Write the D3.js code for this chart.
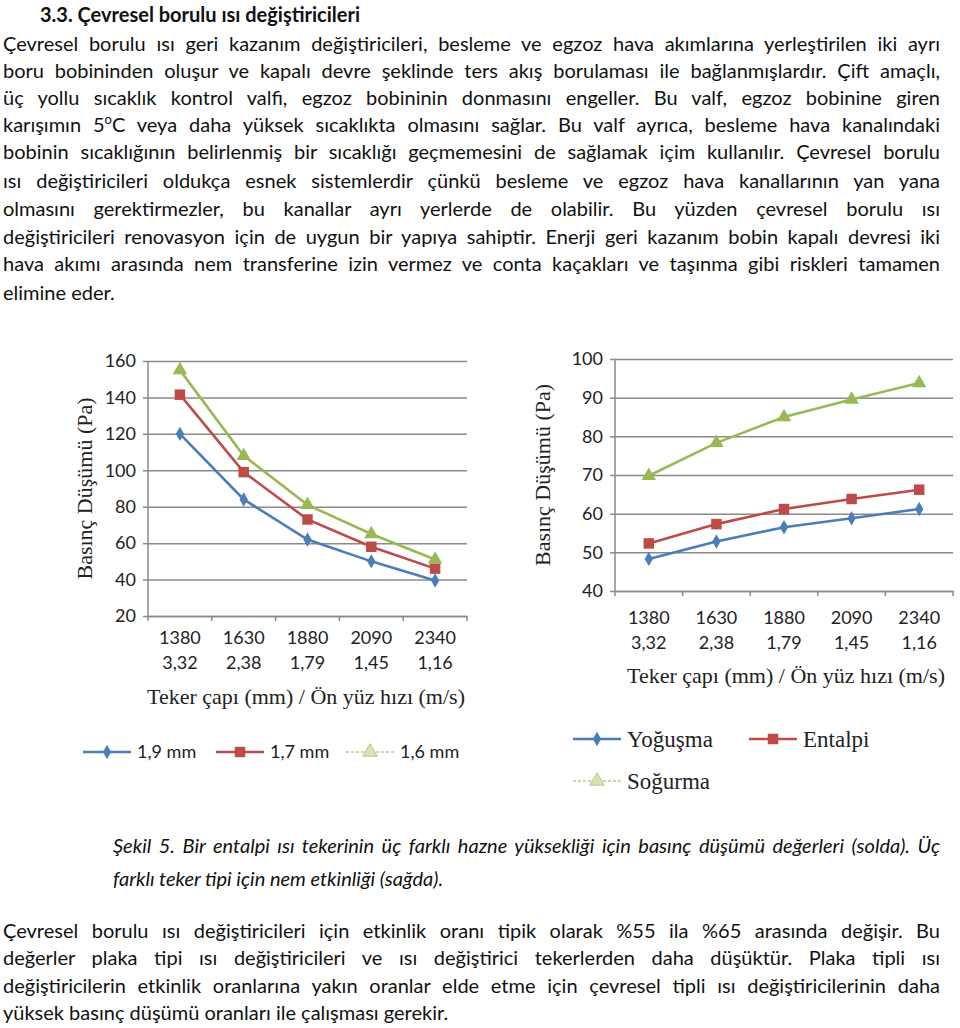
<!DOCTYPE html>
<html><head><meta charset="utf-8">
<script src="https://cdn.jsdelivr.net/npm/d3@7"></script>
<style>
html,body{margin:0;padding:0;background:#fff;}
#page{position:relative;width:960px;height:1028px;overflow:hidden;font-family:Lato,"Open Sans",sans-serif;color:#111;}
.ln{position:absolute;left:3px;width:937px;font-size:20px;line-height:24px;white-space:nowrap;text-align:justify;text-align-last:justify;}
.ln sup{font-size:0.65em;vertical-align:0;position:relative;top:-0.6em;line-height:0;}
.last{text-align-last:left;}
.it{font-style:italic;}
svg{position:absolute;left:0;top:0;}
</style></head>
<body><div id="page"></div>
<script>
// ---------- DATA ----------
const heading = "3.3. Çevresel borulu ısı değiştiricileri";
const bodyLines = [
 "Çevresel borulu ısı geri kazanım değiştiricileri, besleme ve egzoz hava akımlarına yerleştirilen iki ayrı",
 "boru bobininden oluşur ve kapalı devre şeklinde ters akış borulaması ile bağlanmışlardır. Çift amaçlı,",
 "üç yollu sıcaklık kontrol valfi, egzoz bobininin donmasını engeller. Bu valf, egzoz bobinine giren",
 "karışımın 5<sup>o</sup>C veya daha yüksek sıcaklıkta olmasını sağlar. Bu valf ayrıca, besleme hava kanalındaki",
 "bobinin sıcaklığının belirlenmiş bir sıcaklığı geçmemesini de sağlamak içim kullanılır. Çevresel borulu",
 "ısı değiştiricileri oldukça esnek sistemlerdir çünkü besleme ve egzoz hava kanallarının yan yana",
 "olmasını gerektirmezler, bu kanallar ayrı yerlerde de olabilir. Bu yüzden çevresel borulu ısı",
 "değiştiricileri renovasyon için de uygun bir yapıya sahiptir. Enerji geri kazanım bobin kapalı devresi iki",
 "hava akımı arasında nem transferine izin vermez ve conta kaçakları ve taşınma gibi riskleri tamamen",
 "elimine eder."
];
const captionLines = [
 "Şekil 5. Bir entalpi ısı tekerinin üç farklı hazne yüksekliği için basınç düşümü değerleri (solda). Üç",
 "farklı teker tipi için nem etkinliği (sağda)."
];
const footLines = [
 "Çevresel borulu ısı değiştiricileri için etkinlik oranı tipik olarak %55 ila %65 arasında değişir. Bu",
 "değerler plaka tipi ısı değiştiricileri ve ısı değiştirici tekerlerden daha düşüktür. Plaka tipli ısı",
 "değiştiricilerin etkinlik oranlarına yakın oranlar elde etme için çevresel tipli ısı değiştiricilerinin daha",
 "yüksek basınç düşümü oranları ile çalışması gerekir."
];

const diameters = ["1380","1630","1880","2090","2340"];
const speeds = ["3,32","2,38","1,79","1,45","1,16"];
const yTitle = "Basınç Düşümü (Pa)";
const xTitle = "Teker çapı (mm) / Ön yüz hızı (m/s)";

const leftTicks = [20,40,60,80,100,120,140,160];
const leftNames = ["1,9 mm","1,7 mm","1,6 mm"];
const left19 = [120,84,62,50,39.5];
const left17 = [141.5,99,73,58,46];
const left16 = [155,108,81,65,51];

const rightTicks = [40,50,60,70,80,90,100];
const rightNames = ["Yoğuşma","Entalpi","Soğurma"];
const rightYog = [48.3,52.8,56.5,58.8,61.2];
const rightEnt = [52.3,57.3,61.2,63.8,66.2];
const rightSog = [69.8,78.3,85,89.5,93.8];

// ---------- TEXT ----------
const page = d3.select("#page");
page.append("div").style("position","absolute").style("left","40px").style("top","2px")
  .style("font-size","20px").style("font-weight","bold").style("line-height","24px").text(heading);
const bodyTop = [31,58,85,112,139,168,196,224,251,280];
bodyLines.forEach((t,i)=>{
  page.append("div").attr("class","ln"+(i===bodyLines.length-1?" last":"")).style("top",bodyTop[i]+"px").html(t);
});
const capTop=[833,866];
captionLines.forEach((t,i)=>{
  page.append("div").attr("class","ln it"+(i===captionLines.length-1?" last":""))
    .style("left","113px").style("width","827px").style("top",capTop[i]+"px").text(t);
});
const footTop=[918,945,973,1000];
footLines.forEach((t,i)=>{
  page.append("div").attr("class","ln"+(i===footLines.length-1?" last":"")).style("top",footTop[i]+"px").text(t);
});

// ---------- CHARTS ----------
const svg = page.append("svg").attr("width",960).attr("height",1028);
const colors = ["#4a7ebb","#be4b48","#98b954"];
const symbols = [d3.symbolDiamond, d3.symbolSquare, d3.symbolTriangle];
const symSize = [60,110,90];
const gridCol = "#8a8a8a";

function chart(o){
  const g = svg.append("g");
  const x = d3.scaleBand().domain(diameters).range([o.x0,o.x1]);
  const y = d3.scaleLinear().domain(o.dom).range([o.yb,o.yt]);
  // gridlines + y labels
  const ya = g.append("g").attr("transform",`translate(${o.x0},0)`)
    .call(d3.axisLeft(y).tickValues(o.ticks).tickSize(-(o.x1-o.x0)).tickSizeOuter(0).tickPadding(12));
  ya.select(".domain").remove();
  ya.selectAll(".tick line").attr("stroke",gridCol).attr("stroke-width",1.5);
  ya.selectAll(".tick").append("line").attr("x1",-5).attr("x2",0).attr("stroke",gridCol).attr("stroke-width",1.5);
  ya.selectAll(".tick text").attr("font-family","Lato,sans-serif").attr("font-size",18).attr("fill","#222");
  // y axis line
  g.append("line").attr("x1",o.x0).attr("x2",o.x0).attr("y1",o.yt).attr("y2",o.yb).attr("stroke",gridCol).attr("stroke-width",1.5);
  // bottom axis labels
  const xa = g.append("g").attr("transform",`translate(0,${o.yb})`)
    .call(d3.axisBottom(x).tickSize(0).tickPadding(0));
  xa.select(".domain").attr("stroke",gridCol).attr("stroke-width",1.5);
  xa.selectAll(".tick text").each(function(d,i){
    const t=d3.select(this).text(null).attr("font-family","Lato,sans-serif").attr("font-size",18).attr("fill","#222").attr("dy",null);
    t.append("tspan").attr("x",0).attr("y",o.lab1-o.yb).text(d);
    t.append("tspan").attr("x",0).attr("y",o.lab2-o.yb).text(speeds[i]);
  });
  // boundary ticks
  const bounds = diameters.map(d=>x(d)).concat([o.x1]);
  g.selectAll(".bt").data(bounds).join("line").attr("x1",d=>d).attr("x2",d=>d)
    .attr("y1",o.yb).attr("y2",o.yb+5).attr("stroke",gridCol).attr("stroke-width",1.5);
  // series
  const line = d3.line().x((d,i)=>x(diameters[i])+x.bandwidth()/2).y(d=>y(d));
  o.series.forEach((s,k)=>{
    g.append("path").datum(s).attr("d",line).attr("fill","none").attr("stroke",colors[k]).attr("stroke-width",2.6);
    g.selectAll(null).data(s).join("path")
      .attr("transform",(d,i)=>`translate(${x(diameters[i])+x.bandwidth()/2},${y(d)})`)
      .attr("d",d3.symbol().type(symbols[k]).size(symSize[k])).attr("fill",colors[k]);
  });
  // titles
  g.append("text").attr("transform",`translate(${o.ytx},${(o.yt+o.yb)/2}) rotate(-90)`)
    .attr("text-anchor","middle").attr("font-family","'Liberation Serif',serif").attr("font-size",22).attr("fill","#222").text(yTitle);
  g.append("text").attr("x",o.xtx).attr("y",o.xty).attr("text-anchor","middle")
    .attr("font-family","'Liberation Serif',serif").attr("font-size",22).attr("fill","#222").text(xTitle);
}

chart({x0:148,x1:467,yt:361,yb:616,dom:[20,160],ticks:leftTicks,series:[left19,left17,left16],
  lab1:644,lab2:669,ytx:92,xtx:306,xty:704});
chart({x0:615,x1:953,yt:359,yb:591,dom:[40,100],ticks:rightTicks,series:[rightYog,rightEnt,rightSog],
  lab1:624,lab2:649,ytx:550,xtx:786,xty:683});

// ---------- LEGENDS ----------
function legendItem(x,y,k,label,font,fs,dotted){
  const g=svg.append("g");
  g.append("line").attr("x1",x).attr("x2",x+48).attr("y1",y).attr("y2",y)
    .attr("stroke",dotted?"#c9d9a6":colors[k]).attr("stroke-width",dotted?2:2.6)
    .attr("stroke-dasharray",dotted?"3,2":null);
  g.append("path").attr("transform",`translate(${x+24},${y})`)
    .attr("d",d3.symbol().type(symbols[k]).size(symSize[k]))
    .attr("fill",dotted?"#d6e3b3":colors[k]).attr("stroke",dotted?"#b5c98a":"none");
  g.append("text").attr("x",x+54).attr("y",y).attr("dy","0.35em")
    .attr("font-family",font).attr("font-size",fs).attr("fill","#222").text(label);
}
legendItem(83,752,0,leftNames[0],"Lato,sans-serif",18,false);
legendItem(216,752,1,leftNames[1],"Lato,sans-serif",18,false);
legendItem(346,752,2,leftNames[2],"Lato,sans-serif",18,true);
legendItem(573,739,0,rightNames[0],"'Liberation Serif',serif",23,false);
legendItem(749,739,1,rightNames[1],"'Liberation Serif',serif",23,false);
legendItem(573,781,2,rightNames[2],"'Liberation Serif',serif",23,true);
</script></body></html>
